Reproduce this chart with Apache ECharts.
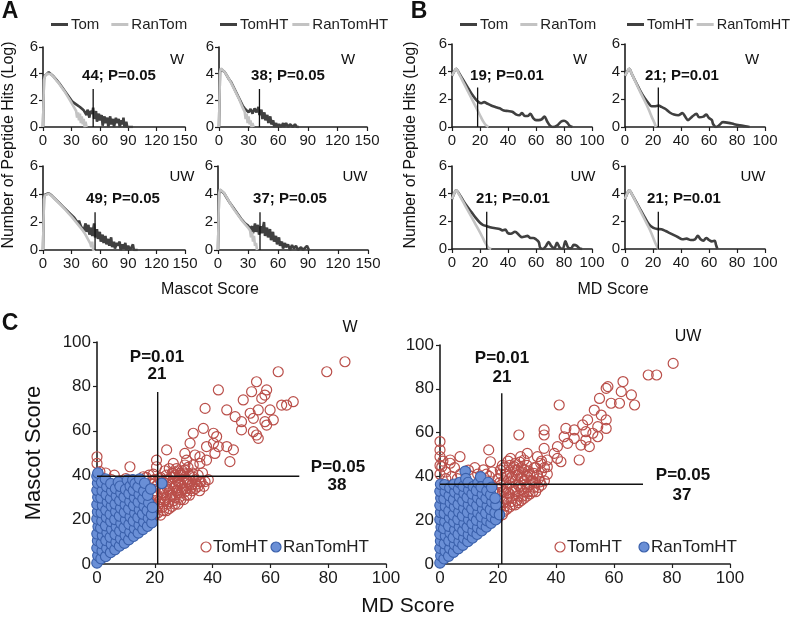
<!DOCTYPE html>
<html><head><meta charset="utf-8">
<script src="https://cdn.jsdelivr.net/npm/echarts@6/dist/echarts.min.js"></script>
<style>html,body{margin:0;padding:0;background:#fff}#c{width:797px;height:626px}</style>
</head><body><div id="c"></div>
<script>
// ---------- Panel A (Mascot score) : [score, log10 hits] ----------
const aW_Tom = [[0,0],[1,3.6],[2,3.85],[4,4.0],[6,4.1],[8,4.0],[11,3.8],[14,3.55],[17,3.3],[20,3.0],[23,2.7],[26,2.4],[29,2.1],[31,1.9],[33,1.8],[35,1.7],[37,1.75],[39,1.5],[41,1.55],[43,1.25],[45,1.4],[46,0.9],[47,1.3],[49,0.7],[50,1.2],[52,1.0],[53,1.45],[54,0.6],[56,1.2],[57,0.4],[59,1.0],[60,0.5],[62,0.9],[63,0.1],[65,0.8],[66,0.3],[68,0.7],[69,0],[71,0.8],[72,0.2],[74,0.6],[75,0],[77,0.7],[78,0.3],[80,0.6],[81,0],[83,0.5],[84,0.2],[85,0.7],[86,0],[88,0.4],[89,0],[95,0]];
const aW_RanTom = [[0,0],[1,3.5],[2,3.8],[4,4.0],[6,4.08],[8,3.98],[11,3.78],[14,3.5],[17,3.25],[20,2.95],[23,2.65],[26,2.3],[29,1.95],[31,1.7],[33,1.45],[35,1.2],[36,0.7],[37,1.1],[38,0.5],[39,1.0],[40,0.3],[41,0.8],[42,0.2],[43,0.6],[44,0],[45,0.4],[46,0]];
const aW_TomHT = [[0,0],[1,4.1],[2,4.35],[4,4.3],[6,4.1],[8,3.85],[10,3.6],[12,3.4],[14,3.1],[16,2.8],[18,2.5],[20,2.2],[22,1.9],[24,1.6],[26,1.4],[28,1.3],[30,1.1],[32,1.35],[34,1.0],[36,1.4],[38,1.1],[40,1.5],[41,0.9],[43,1.3],[44,0.6],[46,1.1],[47,0.5],[49,0.9],[50,0.3],[52,0.8],[53,0.2],[55,0.5],[56,0],[58,0.3],[59,0],[61,0.2],[63,0],[65,0.3],[66,0],[68,0.3],[70,0],[72,0.2],[74,0.3],[75,0],[77,0.2],[79,0],[81,0]];
const aW_RanTomHT = [[0,0],[1,4.1],[2,4.4],[4,4.3],[6,4.1],[8,3.85],[10,3.6],[12,3.35],[14,3.05],[16,2.75],[18,2.45],[20,2.15],[22,1.8],[24,1.45],[26,1.15],[27,0.6],[28,1.0],[29,0.3],[30,0.8],[31,0.2],[32,0.5],[33,0],[34,0.3],[35,0]];
const aUW_Tom = [[0,0],[1,3.7],[2,3.95],[4,4.0],[6,4.05],[9,3.9],[12,3.7],[15,3.5],[18,3.3],[21,3.1],[24,2.9],[27,2.7],[30,2.5],[33,2.3],[35,2.1],[37,1.9],[38,2.1],[40,1.7],[42,1.8],[43,1.4],[45,1.9],[46,1.3],[48,1.8],[49,1.1],[51,1.6],[52,1.0],[54,1.9],[55,0.9],[57,1.5],[58,0.8],[60,1.3],[61,0.6],[63,1.1],[64,0.5],[66,1.0],[67,0.4],[69,0.8],[70,0.3],[72,0.9],[73,0.2],[75,0.6],[76,0.1],[78,0.5],[79,0.3],[81,0.6],[82,0],[84,0.4],[85,0.1],[87,0.5],[88,0],[90,0.3],[92,0],[95,0.4],[96,0],[100,0]];
const aUW_RanTom = [[0,0],[1,3.6],[2,3.9],[4,4.0],[6,4.03],[9,3.88],[12,3.68],[15,3.48],[18,3.28],[21,3.06],[24,2.84],[27,2.62],[30,2.4],[33,2.15],[36,1.9],[39,1.65],[42,1.4],[44,1.2],[46,0.95],[48,0.7],[50,0.45],[51,0.2],[52,0.6],[53,0],[55,0]];
const aUW_TomHT = [[0,0],[1,4.0],[2,4.3],[4,4.25],[6,4.05],[9,3.7],[12,3.35],[15,3.05],[18,2.75],[21,2.45],[24,2.15],[27,1.9],[30,1.75],[32,1.5],[34,1.7],[35,1.2],[37,1.9],[38,1.3],[40,1.8],[41,1.1],[43,1.7],[44,1.2],[46,2.0],[47,1.0],[49,1.6],[50,0.9],[52,1.5],[53,0.7],[55,1.3],[56,0.6],[58,1.0],[59,0.4],[61,0.9],[62,0.3],[64,0.6],[65,0.1],[67,0.5],[68,0.2],[70,0.4],[72,0],[74,0.35],[76,0.1],[78,0.3],[80,0],[83,0.2],[85,0],[89,0.3],[91,0]];
const aUW_RanTomHT = [[0,0],[1,4.0],[2,4.33],[4,4.28],[6,4.08],[9,3.72],[12,3.35],[15,3.0],[18,2.7],[21,2.4],[24,2.1],[27,1.85],[30,1.6],[32,1.4],[33,0.9],[34,1.3],[35,0.6],[36,1.0],[37,0.3],[38,0.5],[39,0]];
// ---------- Panel B (MD score) ----------
const bW_Tom = [[0,3.7],[1.5,4.0],[3,4.2],[5,3.9],[8,3.4],[11,2.9],[14,2.4],[17,2.0],[19,1.8],[21,1.72],[23,1.8],[25,1.7],[28,1.55],[31,1.45],[34,1.35],[37,1.2],[40,1.15],[43,1.1],[46,0.9],[48,0.85],[50,1.0],[52,0.8],[54,0.8],[56,0.95],[58,0.65],[60,0.5],[62,0.5],[64,0.55],[66,0.75],[68,0.4],[70,0.1],[72,0],[75,0.1],[78,0.4],[80,0.45],[82,0.35],[84,0.1],[86,0]];
const bW_RanTom = [[0,3.7],[1.5,4.0],[3,4.2],[5,3.85],[8,3.25],[11,2.65],[14,2.05],[17,1.45],[20,0.85],[22,0.45],[24,0.15],[26,0]];
const bW_TomHT = [[0,3.7],[1.5,4.0],[3,4.2],[5,3.8],[8,3.2],[11,2.6],[14,2.1],[17,1.7],[19,1.5],[21,1.5],[24,1.55],[26,1.45],[29,1.3],[32,1.05],[35,0.9],[38,0.85],[41,1.0],[43,0.75],[45,0.5],[48,0.75],[51,0.95],[53,0.7],[56,0.75],[58,0.9],[60,0.65],[62,0.5],[63,0.2],[65,0],[67,0.1],[70,0.35],[74,0.3],[78,0.2],[82,0.12],[86,0.05],[89,0]];
const bW_RanTomHT = [[0,3.7],[1.5,4.0],[3,4.2],[5,3.8],[8,3.15],[11,2.5],[14,1.9],[17,1.25],[19,0.75],[21,0.3],[22,0]];
const bUW_Tom = [[0,3.6],[1.5,4.0],[3,4.25],[5,4.0],[8,3.5],[11,3.05],[14,2.65],[17,2.25],[20,1.9],[22,1.75],[25,1.65],[28,1.55],[31,1.5],[34,1.45],[36,1.35],[38,1.4],[40,1.15],[42,1.1],[45,1.25],[48,1.0],[50,0.85],[52,0.9],[54,0.95],[56,0.8],[58,0.8],[60,0.7],[62,0.5],[63,0.1],[65,0],[67,0.2],[69,0.5],[71,0.2],[73,0.05],[75,0.45],[77,0.1],[79,0],[81,0.55],[83,0.1],[85,0.05],[87,0.3],[89,0.25],[91,0.05],[93,0]];
const bUW_RanTom = [[0,3.6],[1.5,4.0],[3,4.25],[5,3.95],[8,3.4],[11,2.85],[14,2.3],[17,1.75],[20,1.2],[22,0.8],[24,0.4],[26,0.1],[28,0]];
const bUW_TomHT = [[0,3.6],[1.5,4.0],[3,4.25],[5,3.95],[8,3.4],[11,2.85],[14,2.3],[17,1.8],[20,1.55],[23,1.45],[26,1.42],[29,1.3],[32,1.15],[35,1.0],[38,0.85],[41,0.7],[44,0.75],[47,0.65],[50,0.7],[52,0.95],[54,0.7],[56,0.6],[58,0.8],[60,0.65],[62,0.55],[64,0.6],[65,0.3],[66,0]];
const bUW_RanTomHT = [[0,3.6],[1.5,4.0],[3,4.25],[5,3.95],[8,3.35],[11,2.75],[14,2.15],[17,1.55],[19,1.1],[21,0.6],[23,0.15],[24,0]];
// cutoff lines (x position, top) and their labels
const cutA = [53, 41, 55, 42];
const cutB = [18.3, 23.8, 24.8, 23.8];
const cutTop = [2.85, 2.85, 2.7, 2.7];
const cutLabelsA = ['44; P=0.05', '38; P=0.05', '49; P=0.05', '37; P=0.05'];
const cutLabelsB = ['19; P=0.01', '21; P=0.01', '21; P=0.01', '21; P=0.01'];
const condLabels = ['W', 'W', 'UW', 'UW'];
const ticksA = {max:150, interval:30};
const ticksB = {max:100, interval:20};
const ticksLog = {max:6, interval:2};
const ticksC = {max:100, interval:20};
// ---------- Panel C : [MD score, Mascot score] ----------
const cW_TomHT = [[85.8,91.1],[79.5,86.6],[62.7,86.6],[42,78.4],[55.2,82.1],[58.7,78.4],[53.5,77.6],[50.6,73.9],[57,74.6],[59.9,69.4],[63.9,71.6],[65.6,71.6],[67.9,73.1],[58.1,76.1],[37.4,70.1],[44.9,69.4],[47.8,66.4],[53,67.9],[55.8,69.4],[50,64.1],[54.1,65.6],[61,64.9],[58.1,64.1],[50,60.4],[54.1,59.6],[55.8,56.6],[55.2,58.1],[58.7,62.6],[36.8,61.1],[40.3,58.9],[41.4,57.4],[33.3,58.9],[32.2,54.4],[37.9,52.9],[42,52.9],[47.2,51.4],[46,46.1],[40.8,49.8],[35.6,48.3],[31,46.8],[37.9,46.8],[24.1,51.4],[20.6,43.8],[11.4,43.8],[26.4,45.3],[30.4,44.6],[33.3,44.6],[28.7,40.8],[35.6,37.1],[32.8,35.6],[27.6,33.3],[0,48.3],[0,45.3],[1,41.6],[12,37.8],[16,39.3],[19.5,37.8],[20.6,46.8],[30.4,49.8],[33.9,49.1],[40.3,54.4],[44.9,52.9],[35.6,45.3],[30.4,42.3],[26.4,40.8],[37.4,37.1],[24.1,36.3],[1,39.3],[5,38],[8,37.5],[10,38.5],[3,41],[6,40],
[18,22],[19,21],[20,22],[21,23],[22,22],[23,24],[24,24],[25,25],[26,26],[27,27],[28,27],[29,29],[30,29],[31,31],[32,31],[33,33],[34,34],[35,35],
[19,26],[20,28],[21,26],[22,29],[23,27],[24,30],[25,28],[26,31],[27,30],[28,32],[29,32],[30,34],[31,34],[32,36],[33,36],[34,38],
[19,31],[20,33],[21,31],[22,34],[23,32],[24,35],[25,33],[26,36],[27,35],[28,37],[29,36],[30,38],[31,38],[32,40],
[19,36],[20,38],[21,36],[22,39],[23,37],[24,40],[25,38],[26,41],[27,40],[28,42],[29,40],[30,41],
[17,28],[18,34],[17,39],[18,40],[36,37],[35,40],[33,41],[25,43],
[18.5,23.5],[20.5,24.5],[22.5,25.5],[24.5,27],[26.5,28.5],[28.5,30],[30.5,32.5],[32.5,34],[34.5,36],[21.5,28],[23.5,29],[25.5,31],[27.5,33],[29.5,35],[31.5,37],[33.5,39],[20.5,31],[22.5,32],[24.5,33.5],[26.5,34],[28.5,35.5],[30.5,36.5],[20.5,35],[22.5,36.5],[24.5,38],[26.5,39],[28.5,40],[21.5,38.5],[23.5,42],[27.5,43],[31.5,43.5],[35.5,33],[37,35],[38.5,38],[36.5,41],[19.5,40.5],[29.5,42]];
const cW_RanTomHT = [[0,0.5],[0.3,3.8],[0,7.2],[0.2,10.5],[0,13.6],[0.4,16.9],[0,20.3],[0.2,23.5],[0,26.8],[0.3,30.1],[0,33.2],[0.2,36.4],[0,39.5],[0.3,41],
[1.4,2.4],[1.8,5.9],[1.5,9.3],[1.9,12.8],[1.3,16.2],[1.7,19.4],[1.5,23.1],[1.9,26.3],[1.4,29.8],[1.8,33.0],[1.6,36.8],
[3.0,3.4],[3.4,7.1],[3.1,10.6],[3.5,14.2],[3.0,17.3],[3.3,21.0],[3.1,24.3],[3.6,27.9],[3.2,31.2],[3.4,34.8],[2.9,38.3],
[4.7,5.2],[5.0,8.8],[4.6,12.1],[5.1,15.6],[4.8,19.2],[4.6,22.4],[5.0,26.1],[4.7,29.5],[5.1,32.8],[4.8,36.2],
[6.2,6.5],[6.6,9.9],[6.3,13.3],[6.7,16.8],[6.2,20.1],[6.5,23.7],[6.3,27.1],[6.7,30.6],[6.4,34.0],[7.4,36.9],
[7.8,8.1],[8.2,11.4],[7.9,14.9],[8.3,18.3],[7.8,21.6],[8.2,25.2],[7.9,28.6],[8.3,32.0],[8.0,35.0],
[9.5,9.4],[9.8,12.9],[9.4,16.4],[9.9,19.9],[9.5,23.3],[9.8,26.7],[9.4,30.2],[9.9,33.6],[10.5,37.8],
[11.0,11.0],[11.4,14.4],[11.1,17.9],[11.5,21.3],[11.0,24.8],[11.4,28.2],[11.1,31.7],[11.5,35.1],[12.4,37.9],
[12.7,12.5],[13.0,16.0],[12.6,19.4],[13.1,22.9],[12.7,26.3],[13.0,29.8],[12.6,33.2],[13.2,36.2],
[14.3,14.0],[14.6,17.5],[14.2,21.0],[14.7,24.4],[14.3,27.9],[14.6,31.3],[14.2,34.7],[14.8,38.3],
[15.9,15.6],[16.2,19.0],[15.8,22.5],[16.3,26.0],[15.9,29.4],[16.2,32.9],[16.5,36.4],
[17.5,17.0],[17.8,20.6],[17.4,24.1],[17.9,27.6],[17.5,31.0],[18.6,33.8],
[19.0,18.6],[18.9,22.2],[19.2,25.5],[22.4,36.3]];
const cUW_TomHT = [[80.4,91.6],[71.8,86.3],[74.7,86.3],[63.1,83.3],[57.9,81],[57.3,80.2],[62.5,78.7],[66,77.2],[59,73.4],[61.9,73.4],[67.1,72.6],[55,75.6],[41.1,72.6],[53.2,70.3],[55.6,68],[57.3,65.8],[50.9,65.8],[49.2,63.5],[54.4,62.7],[43.4,61.9],[46.3,61.2],[50.3,60.4],[52.7,59.7],[54.4,58.1],[57.3,61.9],[35.9,61.2],[35.9,58.9],[27.2,58.9],[42.8,58.1],[46.3,57.4],[50.3,56.6],[48.6,54.3],[51.5,53.6],[48,47.5],[44,55.1],[40.5,53.6],[35.9,52.8],[39.4,50.5],[41.7,46.7],[40.5,48.2],[37,47.5],[33.6,49],[30.1,50.5],[27.8,49],[24.3,48.2],[16.8,52.1],[17.4,46.7],[6.9,49],[3.5,47.5],[0,55.9],[0,52.1],[0,49],[0.6,44.4],[1,47],[0,45],[2,42],[3.5,46],[9.8,42.9],[5,44],[12,44],[15,43],[20.8,42.9],[32.4,41.4],[37,44.4],[26.6,42.9],[30.1,39.9],[34.7,46],[0,41],[2,39],[4,40],[6,39],[7,41],[11,40],[13,41],[16,41],
[20,24],[21,26],[22,24],[23,25],[24,26],[25,27],[26,27],[27,28],[28,29],[29,30],[30,31],[31,32],[32,33],[33,33],[34,35],[35,36],
[20,29],[21,31],[22,28],[23,30],[24,32],[25,30],[26,33],[27,31],[28,34],[29,33],[30,35],[31,36],[32,38],[33,37],
[20,34],[21,36],[22,33],[23,35],[24,37],[25,35],[26,38],[27,36],[28,39],[29,38],[30,40],[31,41],
[20,39],[21,41],[22,38],[23,40],[24,42],[25,40],[26,43],[27,41],[28,44],[29,43],[30,45],[24,45],[26,46],[22,44],
[19,32],[18,36],[17,40],[16,38],[18,42],[34,39],[35,42],[36,44],[33,44],
[20.5,26],[22.5,26.5],[24.5,28.5],[26.5,29],[28.5,31],[30.5,33],[32.5,35],[34.5,37.5],[21.5,33],[23.5,32.5],[25.5,34],[27.5,35.5],[29.5,36.5],[31.5,38],[33.5,40.5],[20.5,37],[22.5,41],[24.5,39.5],[26.5,40.5],[28.5,42],[30.5,42.5],[32.5,44],[21.5,45],[25.5,44.5],[27.5,46.5],[23.5,47],[36,38],[37,41],[35,47],[29,47.5],[20,21],[21.5,22.5]];
const cUW_RanTomHT = [[0,0.5],[0.3,3.8],[0,7.2],[0.2,10.5],[0,13.6],[0.4,16.9],[0,20.3],[0.2,23.5],[0,26.8],[0.3,30.1],[0,33.2],[0.2,36.4],
[1.4,2.4],[1.8,5.9],[1.5,9.3],[1.9,12.8],[1.3,16.2],[1.7,19.4],[1.5,23.1],[1.9,26.3],[1.4,29.8],[1.8,33.0],[1.6,36.2],
[3.0,3.6],[3.4,7.1],[3.1,10.6],[3.5,14.2],[3.0,17.3],[3.3,21.0],[3.1,24.3],[3.6,27.9],[3.2,31.2],[3.4,34.8],
[4.7,5.4],[5.0,8.8],[4.6,12.1],[5.1,15.6],[4.8,19.2],[4.6,22.4],[5.0,26.1],[4.7,29.5],[5.1,32.8],[4.8,36.4],
[6.3,7.0],[6.6,10.2],[6.3,13.6],[6.7,17.0],[6.2,20.4],[6.5,23.8],[6.3,27.3],[6.7,30.7],[6.4,34.2],[6.8,37.2],
[7.9,8.6],[8.2,11.8],[7.9,15.2],[8.3,18.6],[7.8,22.0],[8.2,25.4],[7.9,28.8],[8.3,32.2],[8.0,35.5],[8.7,42.3],[8.9,39],
[9.6,10.3],[9.8,13.4],[9.4,16.8],[9.9,20.2],[9.5,23.6],[9.8,27.0],[9.4,30.4],[9.9,33.8],[9.7,37.2],
[11.2,11.9],[11.4,15.0],[11.1,18.4],[11.5,21.8],[11.0,25.2],[11.4,28.6],[11.1,32.0],[11.5,35.4],
[12.8,13.6],[13.0,16.6],[12.6,20.0],[13.1,23.4],[12.7,26.8],[13.0,30.2],[12.6,33.6],[13.1,37.0],[14,39.8],
[14.4,15.2],[14.6,18.2],[14.2,21.6],[14.7,25.0],[14.3,28.4],[14.6,31.8],[14.2,35.2],
[16.0,16.9],[16.2,19.8],[15.8,23.2],[16.3,26.6],[15.9,30.0],[16.2,33.4],[16.6,37.2],
[17.6,18.6],[17.8,21.5],[17.4,24.9],[17.9,28.3],[17.5,31.7],[17.8,35.0],
[19.2,20.2],[19.0,23.5],[19.3,27.0],[19.0,30.0],[20.5,22.5]];
const cThrMD = [21, 21.3];        // MD cutoff (vertical line x)
const cThrMDTop = [77.5, 78];
const cThrMascot = [39.5, 36.4];  // Mascot cutoff (horizontal line y)
const cThrMascotEnd = [70, 70];
const cLabelsMD = ['P=0.01', '21', 'P=0.01', '21'];
const cLabelsMascot = ['P=0.05', '38', 'P=0.05', '37'];

const FONT = '"Liberation Sans", Arial, Helvetica, sans-serif';
const DARK = '#404040', LIGHT = '#c3c3c3', AX = '#1e1e1e';
const RED = '#BA4F4A', BLUEF = '#6A8FD6', BLUES = '#3A60AB';

const grids = [
  {left:43, top:47, width:142, height:80},
  {left:219, top:47, width:148, height:80},
  {left:43, top:166, width:142, height:84},
  {left:218, top:166, width:150, height:84},
  {left:452, top:44, width:140, height:83},
  {left:625, top:44, width:140, height:83},
  {left:452, top:166, width:140, height:83},
  {left:625, top:166, width:140, height:83},
  {left:97, top:342, width:289, height:222},
  {left:440, top:345, width:290, height:219}
];

function xAx(gi, t, fs, margin) {
  return {type:'value', gridIndex:gi, min:0, max:t.max, interval:t.interval,
    axisLine:{show:true, onZero:false, lineStyle:{color:AX, width:1.6}},
    axisTick:{show:true, length:4, lineStyle:{color:AX, width:1.2}},
    axisLabel:{fontSize:fs, color:'#1a1a1a', fontFamily:FONT, margin:margin, showMaxLabel:true, showMinLabel:true},
    splitLine:{show:false}};
}
function yAx(gi, t, fs, margin) {
  return {type:'value', gridIndex:gi, min:0, max:t.max, interval:t.interval,
    axisLine:{show:true, onZero:false, lineStyle:{color:AX, width:1.6}},
    axisTick:{show:true, length:4, lineStyle:{color:AX, width:1.2}},
    axisLabel:{fontSize:fs, color:'#1a1a1a', fontFamily:FONT, margin:margin},
    splitLine:{show:false}};
}

const xAxes = [], yAxes = [];
for (let i = 0; i < 4; i++) { xAxes.push(xAx(i, ticksA, 15, 6)); yAxes.push(yAx(i, ticksLog, 15, 5)); }
for (let i = 4; i < 8; i++) { xAxes.push(xAx(i, ticksB, 15, 6)); yAxes.push(yAx(i, ticksLog, 15, 5)); }
for (let i = 8; i < 10; i++) { xAxes.push(xAx(i, ticksC, 17, 6)); yAxes.push(yAx(i, ticksC, 17, 6)); }

const curves = [
  [aW_Tom, aW_RanTom, 'Tom', 'RanTom'],
  [aW_TomHT, aW_RanTomHT, 'TomHT', 'RanTomHT'],
  [aUW_Tom, aUW_RanTom, 'Tom', 'RanTom'],
  [aUW_TomHT, aUW_RanTomHT, 'TomHT', 'RanTomHT'],
  [bW_Tom, bW_RanTom, 'Tom', 'RanTom'],
  [bW_TomHT, bW_RanTomHT, 'TomHT', 'RanTomHT'],
  [bUW_Tom, bUW_RanTom, 'Tom', 'RanTom'],
  [bUW_TomHT, bUW_RanTomHT, 'TomHT', 'RanTomHT']
];
const series = [];
curves.forEach((c, i) => {
  const sm = i >= 4 ? 0.35 : false;
  series.push({type:'line', name:c[2], xAxisIndex:i, yAxisIndex:i, data:c[0], showSymbol:false, symbol:'none', smooth:sm,
    lineStyle:{color:DARK, width:2.6}, itemStyle:{color:DARK}, silent:true, animation:false, z:2});
  series.push({type:'line', name:c[3], xAxisIndex:i, yAxisIndex:i, data:c[1], showSymbol:false, symbol:'none', smooth:sm,
    lineStyle:{color:LIGHT, width:2.6}, itemStyle:{color:LIGHT}, silent:true, animation:false, z:3});
  const cx = i < 4 ? cutA[i] : cutB[i - 4];
  const top = cutTop[i % 4];
  series.push({type:'line', xAxisIndex:i, yAxisIndex:i, data:[[cx, 0], [cx, top]], showSymbol:false, symbol:'none',
    lineStyle:{color:'#111', width:1.3}, silent:true, animation:false, z:5});
});
const scat = [[cW_TomHT, cW_RanTomHT], [cUW_TomHT, cUW_RanTomHT]];
scat.forEach((s, k) => {
  const gi = 8 + k;
  series.push({type:'scatter', name:'C_TomHT', xAxisIndex:gi, yAxisIndex:gi, data:s[0], symbol:'circle', symbolSize:10,
    itemStyle:{color:'rgba(255,255,255,0)', borderColor:RED, borderWidth:1.2, opacity:1}, silent:true, animation:false, z:2});
  series.push({type:'scatter', name:'C_RanTomHT', xAxisIndex:gi, yAxisIndex:gi, data:s[1], symbol:'circle', symbolSize:10.5,
    itemStyle:{color:BLUEF, borderColor:BLUES, borderWidth:1.1, opacity:1}, silent:true, animation:false, z:3});
  series.push({type:'line', xAxisIndex:gi, yAxisIndex:gi, data:[[cThrMD[k], 0], [cThrMD[k], cThrMDTop[k]]], showSymbol:false, symbol:'none',
    lineStyle:{color:'#111', width:1.4}, silent:true, animation:false, z:6});
  series.push({type:'line', xAxisIndex:gi, yAxisIndex:gi, data:[[0, cThrMascot[k]], [cThrMascotEnd[k], cThrMascot[k]]], showSymbol:false, symbol:'none',
    lineStyle:{color:'#111', width:1.4}, silent:true, animation:false, z:6});
});

function legStyle(gap, fs) {
  return {icon:'rect', itemWidth:17, itemHeight:3, itemGap:gap, padding:0, orient:'horizontal', selectedMode:false, width:300,
    textStyle:{fontSize:fs, color:'#222', fontFamily:FONT, padding:[0,0,0,-2]}};
}
const legends = [
  Object.assign({left:51, top:17, data:['Tom','RanTom']}, legStyle(12, 15)),
  Object.assign({left:220, top:17, data:['TomHT','RanTomHT']}, legStyle(4, 15)),
  Object.assign({left:460, top:17, data:['Tom','RanTom']}, legStyle(12, 15)),
  Object.assign({left:627, top:17, data:['TomHT','RanTomHT']}, legStyle(3, 14.5))
];

function T(text, x, y, o) {
  o = o || {};
  return {type:'text', x:x, y:y, rotation:o.rot || 0, silent:true, z:50,
    style:{text:text, fill:o.color || '#111', font:(o.bold ? 'bold ' : '') + (o.size || 15) + 'px ' + FONT,
      align:o.align || 'center', verticalAlign:'middle'}};
}
const graphics = [];
graphics.push(T('A', 10, 12, {bold:true, size:23}));
graphics.push(T('B', 419, 12, {bold:true, size:23}));
graphics.push(T('C', 10, 324, {bold:true, size:23}));
const annA = [[119,76],[288,76],[123,199],[290,199]];
const annB = [[507,76],[682,76],[513,199],[684,199]];
const condA = [[177,60],[348,60],[182,177],[355,177]];
const condB = [[580,60],[752,60],[583,177],[753,177]];
for (let i = 0; i < 4; i++) {
  graphics.push(T(cutLabelsA[i], annA[i][0], annA[i][1], {bold:true, size:15}));
  graphics.push(T(cutLabelsB[i], annB[i][0], annB[i][1], {bold:true, size:15}));
  graphics.push(T(condLabels[i], condA[i][0], condA[i][1], {size:15}));
  graphics.push(T(condLabels[i], condB[i][0], condB[i][1], {size:15}));
}
graphics.push(T('Number of Peptide Hits (Log)', 9, 145, {rot:Math.PI/2, size:16}));
graphics.push(T('Number of Peptide Hits (Log)', 411, 145, {rot:Math.PI/2, size:16}));
graphics.push(T('Mascot Score', 210, 290, {size:16}));
graphics.push(T('MD Score', 613, 290, {size:16}));
// panel C texts
graphics.push(T(cLabelsMD[0], 157, 357, {bold:true, size:17}));
graphics.push(T(cLabelsMD[1], 157, 374, {bold:true, size:17}));
graphics.push(T(cLabelsMascot[0], 338, 467, {bold:true, size:17}));
graphics.push(T(cLabelsMascot[1], 337, 485, {bold:true, size:17}));
graphics.push(T('W', 350, 328, {size:16}));
graphics.push(T(cLabelsMD[2], 502, 358, {bold:true, size:17}));
graphics.push(T(cLabelsMD[3], 502, 377, {bold:true, size:17}));
graphics.push(T(cLabelsMascot[2], 683, 475, {bold:true, size:17}));
graphics.push(T(cLabelsMascot[3], 682, 495, {bold:true, size:17}));
graphics.push(T('UW', 688, 337, {size:16}));
graphics.push(T('Mascot Score', 34, 453, {rot:Math.PI/2, size:22}));
graphics.push(T('MD Score', 408, 606, {size:21}));
// panel C legends
function circ(x, y, fill, stroke) {
  return {type:'circle', shape:{cx:x, cy:y, r:5}, silent:true, z:50,
    style:{fill:fill, stroke:stroke, lineWidth:1.2}};
}
graphics.push(circ(206, 547, 'rgba(255,255,255,0)', RED));
graphics.push(T('TomHT', 213, 547, {size:17, align:'left', color:'#222'}));
graphics.push(circ(276, 547, BLUEF, BLUES));
graphics.push(T('RanTomHT', 283, 547, {size:17, align:'left', color:'#222'}));
graphics.push(circ(560, 547, 'rgba(255,255,255,0)', RED));
graphics.push(T('TomHT', 567, 547, {size:17, align:'left', color:'#222'}));
graphics.push(circ(644, 547, BLUEF, BLUES));
graphics.push(T('RanTomHT', 651, 547, {size:17, align:'left', color:'#222'}));

const chart = echarts.init(document.getElementById('c'), null, {renderer:'canvas'});
chart.setOption({
  backgroundColor:'#ffffff',
  animation:false,
  grid: grids,
  xAxis: xAxes,
  yAxis: yAxes,
  legend: legends,
  series: series,
  graphic: graphics
});
</script></body></html>
